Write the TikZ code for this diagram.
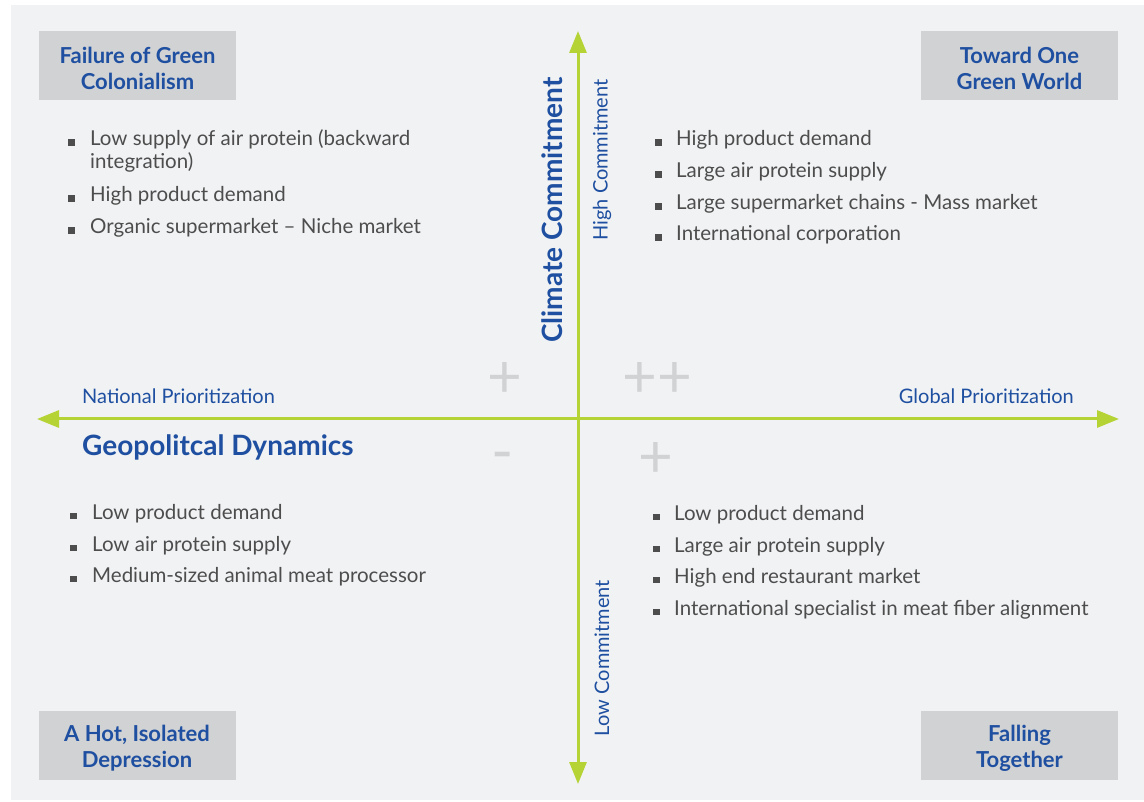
\documentclass[tikz,border=0pt]{standalone}
\usepackage{fontspec}
\setmainfont{Lato}
\usetikzlibrary{arrows.meta}
\definecolor{bgc}{HTML}{F1F2F4}
\definecolor{boxc}{HTML}{D1D2D4}
\definecolor{bluec}{HTML}{1E4FA0}
\definecolor{greenc}{HTML}{B5D335}
\definecolor{textc}{HTML}{4D4D4D}
\definecolor{plusc}{HTML}{D1D2D4}
\tikzset{
  titlebox/.style={fill=boxc, minimum width=197pt, minimum height=69pt, inner sep=0pt},
  titletext/.style={inner sep=0pt, align=center, text=bluec, font=\fontsize{22}{26}\selectfont\bfseries},
  axis/.style={draw=greenc, line width=3pt, {Triangle[length=22pt,width=17pt]}-{Triangle[length=22pt,width=17pt]}},
  btext/.style={anchor=base west, inner sep=0pt, text=textc, font=\fontsize{20.5}{23}\selectfont},
  bul/.style={anchor=base west, inner sep=0pt, text=textc},
  axlabel/.style={inner sep=0pt, text=bluec, font=\fontsize{20}{22}\selectfont},
  pm/.style={inner sep=0pt, text=plusc, font=\fontsize{60}{60}\selectfont}
}
\newcommand{\bsq}{\rule{6.5pt}{6.5pt}}
\begin{document}
\begin{tikzpicture}[x=1pt,y=-1pt]
\useasboundingbox (0,0) rectangle (1144,802);
\fill[bgc] (11,5) rectangle (1144,800);
% title boxes
\node[titlebox] (tl) at (137.5,65.5) {};
\node[titlebox] (tr) at (1019.5,65.5) {};
\node[titlebox] (bl) at (137,745.5) {};
\node[titlebox] (br) at (1019.5,745.5) {};
\node[titletext] (tlt) at ([yshift=-3pt]tl.center) {Failure of Green\\Colonialism};
\node[titletext] (trt) at ([yshift=-3pt]tr.center) {Toward One\\Green World};
\node[titletext] (blt) at ([yshift=-3pt]bl.center) {A Hot, Isolated\\Depression};
\node[titletext] (brt) at ([yshift=-3pt]br.center) {Falling\\Together};
% axes
\coordinate (top) at (578,31);
\coordinate (bot) at (578,784);
\coordinate (lft) at (37,419);
\coordinate (rgt) at (1119,419);
\draw[axis] (bot) -- (top);
\draw[axis] (lft) -- (rgt);
% axis labels
\node[inner sep=0pt, text=bluec, font=\fontsize{28}{30}\selectfont\bfseries, rotate=90] (cc) at (552,210) {Climate Commitment};
\node[axlabel, rotate=90] (hc) at (602,160) {High Commitment};
\node[axlabel, rotate=90] (lc) at (602,658) {Low Commitment};
\node[axlabel, anchor=base west] (np) at (82,404) {National Prioritization};
\node[axlabel, anchor=base east] (gp) at (1074,404) {Global Prioritization};
\node[inner sep=0pt, anchor=base west, text=bluec, font=\fontsize{28}{30}\selectfont\bfseries] (gd) at (82,455) {Geopolitcal Dynamics};
% plus/minus
\node[pm] (p1) at (505,380) {+};
\node[pm] (p2) at (657,380) {++};
\node[pm] (m1) at (503,462) {-};
\node[pm] (p3) at (656,460) {+};
% TL bullets
\node[bul] (tlb1) at (68,146) {\bsq};
\node[btext] (tlt1) at (90,146) {Low supply of air protein (backward};
\node[btext] (tlt1b) at (90,169) {integration)};
\node[bul] (tlb2) at (68,202) {\bsq};
\node[btext] (tlt2) at (90,202) {High product demand};
\node[bul] (tlb3) at (68,234) {\bsq};
\node[btext] (tlt3) at (90,234) {Organic supermarket -- Niche market};
% TR bullets
\node[bul] (trb1) at (655,146) {\bsq};
\node[btext] (trt1) at (676,146) {High product demand};
\node[bul] (trb2) at (655,178) {\bsq};
\node[btext] (trt2) at (676,178) {Large air protein supply};
\node[bul] (trb3) at (655,210) {\bsq};
\node[btext] (trt3) at (676,210) {Large supermarket chains - Mass market};
\node[bul] (trb4) at (655,241) {\bsq};
\node[btext] (trt4) at (676,241) {International corporation};
% BL bullets
\node[bul] (blb1) at (70,519) {\bsq};
\node[btext] (blt1) at (92,519) {Low product demand};
\node[bul] (blb2) at (70,551) {\bsq};
\node[btext] (blt2) at (92,551) {Low air protein supply};
\node[bul] (blb3) at (70,582) {\bsq};
\node[btext] (blt3) at (92,582) {Medium-sized animal meat processor};
% BR bullets
\node[bul] (brb1) at (653,520) {\bsq};
\node[btext] (brt1) at (674,520) {Low product demand};
\node[bul] (brb2) at (653,552) {\bsq};
\node[btext] (brt2) at (674,552) {Large air protein supply};
\node[bul] (brb3) at (653,583) {\bsq};
\node[btext] (brt3) at (674,583) {High end restaurant market};
\node[bul] (brb4) at (653,615) {\bsq};
\node[btext] (brt4) at (674,615) {International specialist in meat fiber alignment};
\end{tikzpicture}
\end{document}
